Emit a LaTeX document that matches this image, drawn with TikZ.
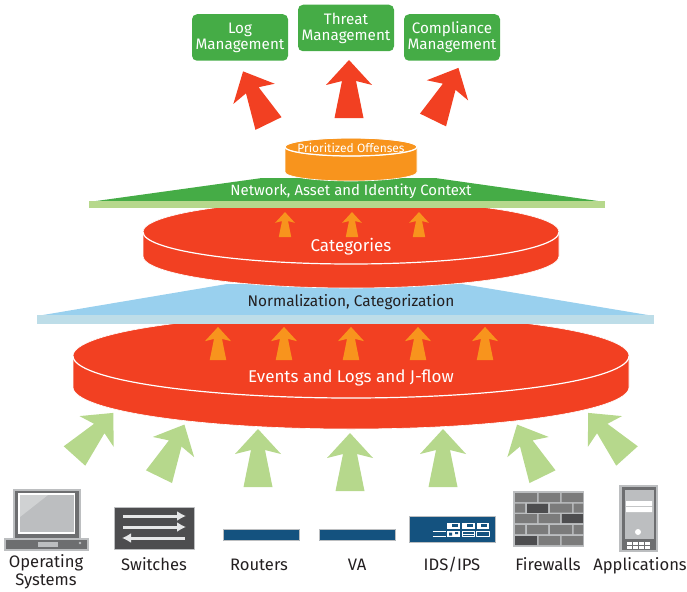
\documentclass[tikz,border=0pt]{standalone}
\usepackage{fontspec}
\setmainfont{Fira Sans}
\usetikzlibrary{arrows.meta}
\definecolor{flowred}{HTML}{F24022}
\definecolor{floworange}{HTML}{F8941D}
\definecolor{flowgreen}{HTML}{45AC46}
\definecolor{palegreen}{HTML}{B6D88C}
\definecolor{flowblue}{HTML}{99D0EE}
\definecolor{paleblue}{HTML}{BDDDE8}
\definecolor{devblue}{HTML}{14527F}
\definecolor{devdark}{HTML}{4D4D4F}
\definecolor{devmid}{HTML}{6D6E70}
\definecolor{devbrick}{HTML}{7B7B7B}
\definecolor{devlight}{HTML}{BCBEC0}
\definecolor{devpale}{HTML}{E6E7E8}
\definecolor{inkdark}{HTML}{231F20}
\tikzset{
  flowarrow/.pic={\fill[pic actions] (-14.5,0) -- (-7,-37) -- (-23,-33) -- (0,-58) -- (23,-33) -- (7,-37) -- (14.5,0) -- cycle;},
  greenarrow/.style={fill=palegreen},
  redarrow/.style={fill=flowred},
  smallarrow/.style={fill=floworange,scale=#1},
  mgmtbox/.style={fill=flowgreen,rounded corners=5pt,minimum width=96pt,minimum height=46.5pt,inner sep=0pt,align=center,text=white,font=\fontsize{15.2}{16}\selectfont},
  barlabel/.style={inner sep=0pt,font=\fontsize{14.9}{16}\selectfont},
  disklabel/.style={text=white,inner sep=0pt,font=\fontsize{17}{18}\selectfont},
  devlabel/.style={text=inkdark,align=center,inner sep=0pt,font=\fontsize{16.6}{18}\selectfont},
  devname/.style={devlabel,anchor=base},
  devbox/.style={draw=devlight,line width=1pt},
  switchline/.style={draw=devpale,line width=3pt,-{Latex[length=9pt,width=10pt]}},
  brick/.style={fill=devbrick},
  darkbrick/.style={fill=devdark},
}
% centre x, x-radius, top y, height, y-radius, colour
\newcommand{\flowdisk}[6]{
  \path[fill=#6,draw=white,line width=0.6pt] ({#1-#2},{#3+#4}) arc[start angle=180,end angle=360,x radius=#2pt,y radius=#5pt]
    -- ({#1+#2},#3) arc[start angle=0,end angle=180,x radius=#2pt,y radius=#5pt] -- cycle;
  \draw[white,line width=1.2pt] ({#1-#2},#3) arc[start angle=180,end angle=360,x radius=#2pt,y radius=#5pt];
}
\begin{document}
\begin{tikzpicture}[x=1pt,y=-1pt,line join=bevel]
\useasboundingbox (0,0) rectangle (687,591);
%% management boxes
\node (log) at (240,37.5) [mgmtbox] {Log\\Management};
\node (threat) at (346,28) [mgmtbox] {Threat\\Management};
\node (compliance) at (452,37.5) [mgmtbox] {Compliance\\Management};
\pic[redarrow,rotate=26] at (268.5,123.5) {flowarrow};
\pic[redarrow] at (349,118) {flowarrow};
\pic[redarrow,rotate=-26] at (433,120) {flowarrow};
%% events
\flowdisk{351}{278}{356}{31}{42}{flowred}
\fill[flowblue] (37,316) -- (227,284) -- (462,284) -- (654,316) -- cycle;
\fill[paleblue] (37,315) rectangle (654,324);
\node (normal) at (351,302.5) [inner sep=0pt,text=inkdark,font=\fontsize{15.4}{16}\selectfont] {Normalization, Categorization};
\foreach \x in {218,284,351,418,485}
  \pic[smallarrow=0.57] at (\x,360) {flowarrow};
\node (events) at (351,377.5) [disklabel] {Events and Logs and J-flow};
%% categories
\flowdisk{351}{208}{232}{24}{32}{flowred}
\fill[flowgreen] (89,202) -- (262,178) -- (435,178) -- (605,202) -- cycle;
\fill[palegreen] (89,201) rectangle (605,208);
\flowdisk{351}{66}{147}{25}{9}{floworange}
\draw[white,line width=0.8pt] (351,147) ellipse [x radius=66,y radius=9];
\node (offenses) at (351,147.5) [text=white,inner sep=0pt,font=\fontsize{12}{14}\selectfont] {Prioritized Offenses};
\node (context) at (351,191.5) [barlabel,text=white] {Network, Asset and Identity Context};
\foreach \x in {285,352,419}
  \pic[smallarrow=0.43] at (\x,237) {flowarrow};
\node (categories) at (351,246.5) [disklabel] {Categories};
%% inputs
\pic[greenarrow,rotate=-42] at (74.5,456) {flowarrow};
\pic[greenarrow,rotate=-26] at (159,476.7) {flowarrow};
\pic[greenarrow] at (258,487) {flowarrow};
\pic[greenarrow] at (350,491) {flowarrow};
\pic[greenarrow] at (443,487) {flowarrow};
\pic[greenarrow,rotate=26] at (542.5,476.7) {flowarrow};
\pic[greenarrow,rotate=42] at (627,456) {flowarrow};
%% laptop
\fill[devlight] (13,489) rectangle (81,538);
\fill[devmid] (15,491) rectangle (79,538);
\fill[white] (18,493) rectangle (75,534);
\fill[devlight] (20,495) rectangle (73.5,532);
\fill[devlight!70!white] (20,495) -- (48,495) -- (20,517) -- cycle;
\fill[devlight] (4,538) rectangle (89,551);
\fill[devmid] (6,540) rectangle (87,549);
\fill[devlight] (38,542) rectangle (58,547);
\fill[devlight] (80,543) circle (1.3);
%% switch
\fill[devdark,devbox] (114,507) rectangle (194,549);
\coordinate (swa1) at (123,516); \coordinate (swb1) at (186,516);
\coordinate (swa2) at (123,527); \coordinate (swb2) at (186,527);
\coordinate (swa3) at (185,538); \coordinate (swb3) at (122,538);
\draw[switchline] (swa1) -- (swb1);
\draw[switchline] (swa2) -- (swb2);
\draw[switchline] (swa3) -- (swb3);
%% routers and VA
\fill[devblue,devbox] (223,529) rectangle (299.5,540.5);
\fill[devblue,devbox] (319,529) rectangle (395.5,540.5);
%% ids
\fill[devblue,devbox] (409,516.5) rectangle (495.5,542.5);
\foreach \x in {447.3,462.3,476.8} {
  \fill[white] (\x,522.7) rectangle (\x+12.5,528.5);
  \fill[devblue] (\x+4.5,524.2) rectangle (\x+10.5,527);
  \draw[white,line width=0.9pt] (\x,531.5) rectangle (\x+12.5,536.5);
}
\fill[white] (447.3,531) rectangle (459.8,537);
\fill[devblue] (449,532.5) rectangle (452,535.5) (455,532) rectangle (458,534);
\draw[white,line width=0.9pt] (462.3,534) -- (474.8,534);
\draw[white,line width=0.9pt] (432.5,531.5) -- (446,531.5) (432.5,536.5) -- (446,536.5);
%% firewall
\fill[devlight] (513,491) rectangle (584,547);
\foreach \y in {493,514,536} {
  \fill[brick] (515,\y) rectangle (537,\y+9) (538.5,\y) rectangle (560,\y+9) (561.5,\y) rectangle (583,\y+9);
}
\foreach \y in {503.5,525} {
  \fill[brick] (515,\y) rectangle (525,\y+9) (527,\y) rectangle (548,\y+9) (550,\y) rectangle (572,\y+9) (573.5,\y) rectangle (583,\y+9);
}
\fill[darkbrick] (527,503.5) rectangle (548,512.5);
\fill[darkbrick] (561.5,514) rectangle (583,523);
\fill[darkbrick] (515,536) rectangle (537,545);
%% server
\fill[devlight] (619,485) rectangle (658,552);
\fill[devmid] (621.5,487) rectangle (656,550);
\fill[devlight] (625,490) rectangle (654,539);
\fill[white] (626,501) rectangle (652,506) (626,507) rectangle (652,512);
\fill[white] (638,532) circle (3);
\foreach \x in {626.5,632.8,639.1,645.4}
  \foreach \y in {542,546}
    \fill[white] (\x,\y) rectangle (\x+5,\y+3);
%% labels
\node (os) at (46,572) [devlabel] {Operating\\Systems};
\node (switches) at (154,570.5) [devname] {Switches};
\node (routers) at (259,570.5) [devname] {Routers};
\node (va) at (357,570.5) [devname] {VA};
\node (ids) at (452,570.5) [devname] {IDS/IPS};
\node (firewalls) at (548,570.5) [devname] {Firewalls};
\node (apps) at (640,570.5) [devname] {Applications};
%
\end{tikzpicture}
\end{document}
